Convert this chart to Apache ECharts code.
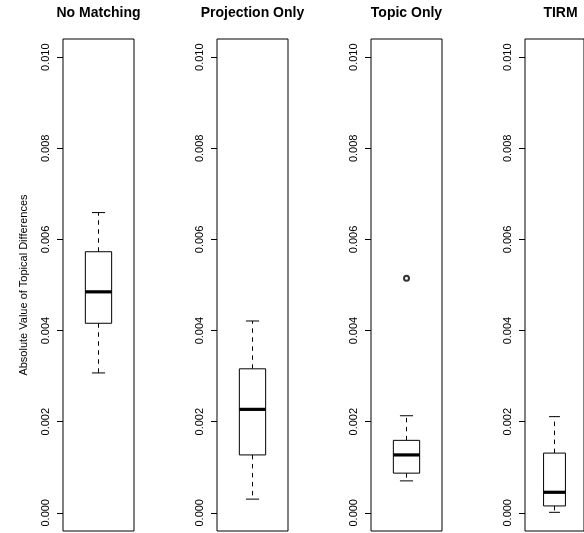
<!DOCTYPE html>
<html>
<head>
<meta charset="utf-8">
<script src="https://cdn.jsdelivr.net/npm/echarts@6/dist/echarts.min.js"></script>
<style>
  html, body { margin: 0; padding: 0; background: #fff; }
  #chart { width: 584px; height: 533px; }
</style>
</head>
<body>
<div id="chart"></div>
<script>
// Box-plot summaries of the absolute topical differences per matching method
const panels = ['No Matching', 'Projection Only', 'Topic Only', 'TIRM'];
const lowerWhisker = [0.00307, 0.00030, 0.00070, 0.00001];
const lowerQuartile = [0.00416, 0.00127, 0.00087, 0.00015];
const median = [0.00485, 0.00227, 0.00127, 0.00045];
const upperQuartile = [0.00573, 0.00316, 0.00159, 0.00131];
const upperWhisker = [0.00659, 0.00421, 0.00213, 0.00211];
const outliers = [[], [], [0.00515], []];
const yTicks = [0, 0.002, 0.004, 0.006, 0.008, 0.010];
const yTitle = 'Absolute Value of Topical Differences';

const FONT = '"Liberation Sans", Arial, Helvetica, sans-serif';
const chart = echarts.init(document.getElementById('chart'), null, { renderer: 'canvas' });

const panelLeft = [63, 217, 371, 525];
const plotTop = 39, plotHeight = 492, plotWidth = 71;

const grids = [], xAxes = [], yAxes = [], series = [], graphics = [];

panels.forEach(function (name, i) {
  grids.push({
    left: panelLeft[i], top: plotTop, width: plotWidth, height: plotHeight,
    show: true, borderColor: '#000', borderWidth: 1, backgroundColor: 'transparent'
  });
  xAxes.push({
    type: 'value', gridIndex: i, min: 0.46, max: 1.54, show: false
  });
  yAxes.push({
    type: 'value', gridIndex: i, min: -0.0004, max: 0.0104,
    axisLine: { show: false },
    splitLine: { show: false },
    axisTick: { show: true, length: 6, inside: false, customValues: yTicks,
                lineStyle: { color: '#000', width: 1 } },
    axisLabel: {
      show: true, customValues: yTicks, rotate: 90, margin: 12,
      fontFamily: FONT, fontSize: 11, color: '#000',
      formatter: function (v) { return Number(v).toFixed(3); }
    },
    name: i === 0 ? yTitle : '',
    nameLocation: 'middle', nameRotate: 90, nameGap: 34,
    nameTextStyle: { fontFamily: FONT, fontSize: 11, color: '#000' }
  });

  series.push({
    type: 'custom', xAxisIndex: i, yAxisIndex: i,
    data: [[1, lowerWhisker[i], lowerQuartile[i], median[i], upperQuartile[i], upperWhisker[i]]],
    encode: { x: 0, y: [1, 2, 3, 4, 5] },
    renderItem: function (params, api) {
      const x = api.value(0);
      const lo = api.value(1), q1 = api.value(2), md = api.value(3), q3 = api.value(4), hi = api.value(5);
      const boxL = api.coord([x - 0.2, q3]);
      const boxR = api.coord([x + 0.2, q1]);
      const capL = api.coord([x - 0.1, hi])[0];
      const capR = api.coord([x + 0.1, hi])[0];
      const cx = api.coord([x, md])[0];
      const yHi = api.coord([x, hi])[1];
      const yLo = api.coord([x, lo])[1];
      const yQ3 = boxL[1], yQ1 = boxR[1];
      const yMd = api.coord([x, md])[1];
      const solid = { stroke: '#000', lineWidth: 1, fill: null };
      const dashed = { stroke: '#000', lineWidth: 1, lineDash: [4.5, 4.5], fill: null };
      return {
        type: 'group',
        children: [
          { type: 'line', shape: { x1: cx, y1: yQ3, x2: cx, y2: yHi }, style: dashed },
          { type: 'line', shape: { x1: cx, y1: yQ1, x2: cx, y2: yLo }, style: dashed },
          { type: 'line', shape: { x1: capL, y1: yHi, x2: capR, y2: yHi }, style: solid },
          { type: 'line', shape: { x1: capL, y1: yLo, x2: capR, y2: yLo }, style: solid },
          { type: 'rect', shape: { x: boxL[0], y: yQ3, width: boxR[0] - boxL[0], height: yQ1 - yQ3 },
            style: { stroke: '#000', lineWidth: 1, fill: '#fff' } },
          { type: 'line', shape: { x1: boxL[0], y1: yMd, x2: boxR[0], y2: yMd },
            style: { stroke: '#000', lineWidth: 3.2 } }
        ]
      };
    }
  });

  if (outliers[i].length) {
    series.push({
      type: 'scatter', xAxisIndex: i, yAxisIndex: i,
      symbol: 'emptyCircle', symbolSize: 5,
      itemStyle: { color: '#000', borderColor: '#000', borderWidth: 1 },
      data: outliers[i].map(function (v) { return [1, v]; })
    });
  }

  graphics.push({
    type: 'text', x: panelLeft[i] + plotWidth / 2, y: 13,
    style: {
      text: name, font: 'bold 14px ' + FONT, fill: '#000',
      textAlign: 'center', textVerticalAlign: 'middle'
    }
  });
});

chart.setOption({
  animation: false,
  backgroundColor: '#fff',
  grid: grids,
  xAxis: xAxes,
  yAxis: yAxes,
  series: series,
  graphic: graphics
});
</script>
</body>
</html>
